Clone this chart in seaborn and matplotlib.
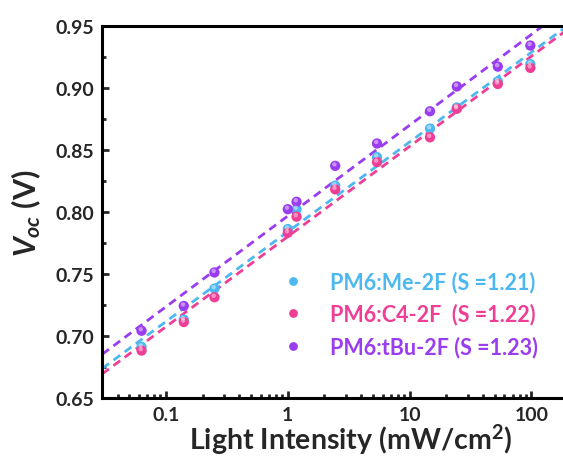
import numpy as np
import pandas as pd
import matplotlib
matplotlib.use("Agg")
import matplotlib.pyplot as plt
import seaborn as sns
from matplotlib.ticker import MultipleLocator, LogLocator, FixedLocator, FixedFormatter

# ---- data ----
intensity = [0.063, 0.14, 0.25, 1.0, 1.18, 2.45, 5.4, 14.7, 24.4, 53.0, 98.0]
voc_me = [0.691, 0.713, 0.738, 0.786, 0.802, 0.821, 0.844, 0.867, 0.884, 0.905, 0.919]
voc_c4 = [0.688, 0.711, 0.731, 0.783, 0.796, 0.818, 0.840, 0.860, 0.883, 0.903, 0.916]
voc_tbu = [0.704, 0.724, 0.751, 0.802, 0.808, 0.837, 0.855, 0.881, 0.901, 0.917, 0.934]
series = ["PM6:Me-2F (S =1.21)", "PM6:C4-2F  (S =1.22)", "PM6:tBu-2F (S =1.23)"]
colors = ["#4DB8F0", "#EE3E96", "#9A3CF0"]
x_ticks = [0.1, 1, 10, 100]
x_tick_labels = ["0.1", "1", "10", "100"]
y_ticks = [0.65, 0.70, 0.75, 0.80, 0.85, 0.90, 0.95]

df = pd.DataFrame({
    "I": intensity * 3,
    "Voc": voc_me + voc_c4 + voc_tbu,
    "series": [s for s in series for _ in intensity],
})

sns.set_style("ticks")
plt.rcParams["font.family"] = ["Lato", "DejaVu Sans"]
plt.rcParams["font.weight"] = "bold"
plt.rcParams["mathtext.fontset"] = "custom"
plt.rcParams["mathtext.rm"] = "Lato:bold"
plt.rcParams["mathtext.it"] = "Lato:italic:bold"
plt.rcParams["mathtext.bf"] = "Lato:bold"

fig = plt.figure(figsize=(5.63, 4.64), dpi=100)
ax = fig.add_axes([102.3 / 563, 65.3 / 464, 465.8 / 563, 372.0 / 464])
ax.set_xscale("log")
ax.set_xlim(0.03, 200)
ax.set_ylim(0.65, 0.95)

pal = dict(zip(series, colors))
for s in series:
    sub = df[df["series"] == s]
    sns.regplot(data=sub, x="I", y="Voc", logx=True, truncate=False, ci=None,
                scatter=False, ax=ax,
                line_kws=dict(color=pal[s], lw=2.0, dashes=(3, 2)))

sns.scatterplot(data=df, x="I", y="Voc", hue="series", palette=pal, s=55,
                edgecolor="none", ax=ax, legend=True, zorder=5)
# highlight to mimic shaded spheres
ax.scatter(df["I"] * 0.985, df["Voc"] + 0.0012, s=10, color="white", alpha=0.45,
           edgecolor="none", zorder=6)

fs_leg = 15.5
em = fs_leg * 100 / 72
handles, labels = ax.get_legend_handles_labels()
leg = ax.legend(handles, labels, loc="center left",
                bbox_to_anchor=((293 - em - 102.3) / 465.8, (398.7 - 315) / 372.0),
                frameon=False, handletextpad=(330 - 293 - em) / em, labelspacing=0.5,
                prop=dict(family=["Lato", "DejaVu Sans"], weight="bold", size=fs_leg),
                markerscale=0.85, borderpad=0, borderaxespad=0)
for txt, c in zip(leg.get_texts(), colors):
    txt.set_color(c)

ax.xaxis.set_major_locator(FixedLocator(x_ticks))
ax.xaxis.set_major_formatter(FixedFormatter(x_tick_labels))
ax.xaxis.set_minor_locator(LogLocator(base=10, subs=np.arange(2, 10) * 1.0, numticks=20))
ax.yaxis.set_major_locator(FixedLocator(y_ticks))
ax.yaxis.set_minor_locator(MultipleLocator(0.025))
ax.set_yticklabels([f"{v:.2f}" for v in y_ticks])

ax.tick_params(which="both", direction="in", width=2, top=False, right=False,
               labelsize=14, pad=6)
ax.tick_params(which="major", length=5)
ax.tick_params(which="minor", length=3)
for sp in ax.spines.values():
    sp.set_linewidth(2.2)
    sp.set_color("black")
    sp.set_visible(True)

ax.set_xlabel(r"Light Intensity (mW/cm$^{2}$)", fontsize=20.5, fontweight="bold")
ax.xaxis.set_label_coords((351 - 102.3) / 465.8, -(440 - 398.7) / 372.0)
ax.xaxis.label.set_va("center")
ax.set_ylabel(r"$V_{oc}$ (V)", fontsize=22, fontweight="bold")
ax.yaxis.set_label_coords(-(102.3 - 26) / 465.8, (398.7 - 213) / 372.0)
ax.yaxis.label.set_va("center")

fig.savefig("out.png", dpi=100)
